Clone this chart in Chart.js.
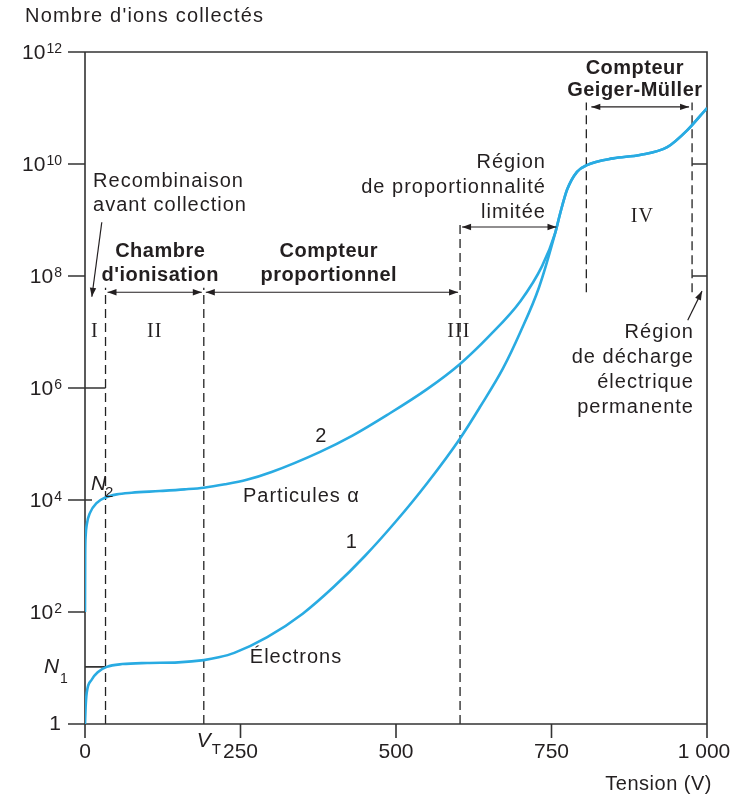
<!DOCTYPE html>
<html>
<head>
<meta charset="utf-8">
<script src="https://cdn.jsdelivr.net/npm/chart.js@4.4.1/dist/chart.umd.min.js"></script>
<style>
  html, body { margin: 0; background: #fff; }
  canvas { display: block; }
</style>
</head>
<body>
<canvas id="chart" width="731" height="794"></canvas>
<script>
const voltsAlpha = [0, 0.3, 1, 3, 8, 19, 32, 51, 75, 120, 160, 191, 225, 260, 300, 378, 430, 486, 550, 603, 650, 700, 735, 756];
const logAlpha   = [2.0, 3.0, 3.35, 3.57, 3.77, 3.95, 4.04, 4.1, 4.13, 4.16, 4.19, 4.22, 4.28, 4.36, 4.5, 4.86, 5.15, 5.52, 5.98, 6.43, 6.93, 7.55, 8.18, 8.77];

const voltsElectrons = [0, 1, 2.7, 10.7, 21, 35, 60, 100, 150, 191, 215, 240, 293, 350, 400, 450, 500, 550, 603, 635, 672, 700, 730, 756];
const logElectrons   = [0, 0.3, 0.55, 0.79, 0.93, 1.02, 1.07, 1.09, 1.1, 1.14, 1.19, 1.27, 1.55, 1.97, 2.45, 3.0, 3.62, 4.3, 5.1, 5.66, 6.35, 7.0, 7.8, 8.77];

// common part once both curves have merged
const voltsGeiger = [764, 775, 791, 807, 849, 892, 936, 968, 1000];
const logGeiger   = [9.12, 9.54, 9.86, 9.98, 10.1, 10.16, 10.3, 10.6, 11.0];

const xTicks = [0, 250, 500, 750, 1000];
const xTickLabels = ['0', '250', '500', '750', '1 000'];
const yTickPowers = [0, 2, 4, 6, 8, 10, 12];

// I|II, II|III (V_T), III|limited, Geiger-Muller start, Geiger-Muller end
const regionBounds = [33, 191, 603, 806, 976];
const logN1 = 1.02;
const logN2 = 4;

const INK = '#231f20';
const AXIS = '#333';
const BLUE = '#29abe2';
const SANS = '"Liberation Sans", Arial, sans-serif';
const SERIF = '"Liberation Serif", "Times New Roman", serif';

const pts = (xs, es) => xs.map((x, i) => ({ x, y: 10 ** es[i] }));

function txt(ctx, s, x, y, font, align = 'left', spacing = '0px') {
  ctx.font = font;
  ctx.textAlign = align;
  ctx.letterSpacing = spacing;
  ctx.fillText(s, x, y);
}

function block(ctx, lines, x, y, lh, font, align, spacing) {
  lines.forEach((s, i) => txt(ctx, s, x, y + i * lh, font, align, spacing));
}

function head(ctx, x1, y1, x2, y2) {
  const a = Math.atan2(y2 - y1, x2 - x1), L = 9, W = 3.2;
  const c = Math.cos(a), s = Math.sin(a);
  ctx.beginPath();
  ctx.moveTo(x2, y2);
  ctx.lineTo(x2 - L * c + W * s, y2 - L * s - W * c);
  ctx.lineTo(x2 - L * c - W * s, y2 - L * s + W * c);
  ctx.closePath();
  ctx.fill();
}

function arrow(ctx, x1, y1, x2, y2, both) {
  ctx.beginPath();
  ctx.moveTo(x1, y1);
  ctx.lineTo(x2, y2);
  ctx.stroke();
  head(ctx, x1, y1, x2, y2);
  if (both) head(ctx, x2, y2, x1, y1);
}

function vdash(ctx, x, yTop, yBottom) {
  ctx.beginPath();
  ctx.moveTo(x, yBottom);
  ctx.lineTo(x, yTop);
  ctx.stroke();
}

const figure = {
  id: 'figure',
  beforeDatasetsDraw(chart) {
    const { ctx, chartArea: a, scales: { x, y } } = chart;
    const X = v => x.getPixelForValue(v);
    const Y = e => y.getPixelForValue(10 ** e);
    const [b1, b2, b3, b4, b5] = regionBounds;
    ctx.save();

    // dashed region limits
    ctx.strokeStyle = '#222';
    ctx.lineWidth = 1.3;
    ctx.setLineDash([9, 5]);
    vdash(ctx, X(b1), Y(7.79), a.bottom);
    vdash(ctx, X(b2), Y(7.79), a.bottom);
    vdash(ctx, X(b3), Y(9.0), a.bottom);
    vdash(ctx, X(b4), Y(11.1), Y(7.71));
    vdash(ctx, X(b5), Y(11.1), Y(7.71));
    ctx.setLineDash([]);

    // frame and ticks
    ctx.strokeStyle = AXIS;
    ctx.lineWidth = 1.6;
    ctx.beginPath();
    ctx.moveTo(a.left - 17, a.top);
    ctx.lineTo(a.right, a.top);
    ctx.lineTo(a.right, a.bottom + 14);
    ctx.moveTo(a.left, a.top);
    ctx.lineTo(a.left, a.bottom);
    ctx.lineTo(a.right, a.bottom);
    yTickPowers.forEach(p => {
      ctx.moveTo(a.left - 17, Y(p));
      let inner = a.left;
      if (p === 6) inner = X(b1);
      if (p === 4) inner = a.left + 7;
      ctx.lineTo(inner, Y(p));
    });
    xTicks.forEach(v => {
      ctx.moveTo(X(v), a.bottom);
      ctx.lineTo(X(v), a.bottom + 14);
    });
    // N1 level and inner right ticks
    ctx.moveTo(a.left, Y(logN1));
    ctx.lineTo(X(b1), Y(logN1));
    [8, 10].forEach(p => {
      ctx.moveTo(X(b5), Y(p));
      ctx.lineTo(a.right, Y(p));
    });
    ctx.stroke();
    ctx.restore();
  },
  afterDatasetsDraw(chart) {
    const { ctx, chartArea: a, scales: { x, y } } = chart;
    const X = v => x.getPixelForValue(v);
    const Y = e => y.getPixelForValue(10 ** e);
    const [b1, b2, b3, b4, b5] = regionBounds;
    const reg = '20px ' + SANS;
    const bold = 'bold 20px ' + SANS;
    const roman = '20px ' + SERIF;
    ctx.save();
    ctx.fillStyle = INK;
    ctx.strokeStyle = INK;
    ctx.textBaseline = 'alphabetic';

    txt(ctx, "Nombre d'ions collectés", 25, 22, reg, 'left', '1.2px');
    txt(ctx, 'Tension (V)', 712, 790, reg, 'right', '0.5px');

    // y tick labels 10^n
    yTickPowers.forEach(p => {
      const ty = Y(p);
      if (p === 0) {
        txt(ctx, '1', 61, ty + 6, '21px ' + SANS, 'right');
        return;
      }
      ctx.font = '14px ' + SANS;
      ctx.letterSpacing = '0px';
      const supW = ctx.measureText(String(p)).width;
      txt(ctx, String(p), 62, ty + 1, '14px ' + SANS, 'right');
      txt(ctx, '10', 62 - supW - 1, ty + 7, '21px ' + SANS, 'right');
    });

    // x tick labels
    xTicks.forEach((v, i) => txt(ctx, xTickLabels[i], X(v) - (v === 1000 ? 3 : 0), a.bottom + 34, '21px ' + SANS, 'center'));

    // N1, N2, V_T
    txt(ctx, 'N', 44, Y(logN1) + 6, 'italic 21px ' + SANS);
    txt(ctx, '1', 60, Y(logN1) + 16, '14px ' + SANS);
    txt(ctx, 'N', 91, Y(logN2) - 10, 'italic 21px ' + SANS);
    txt(ctx, '2', 105, Y(logN2) - 3, '15px ' + SANS);
    txt(ctx, 'V', X(b2) - 7, a.bottom + 23, 'italic 21px ' + SANS);
    txt(ctx, 'T', X(b2) + 8, a.bottom + 30, '15px ' + SANS);

    // region names
    block(ctx, ['Recombinaison', 'avant collection'], X(13), Y(9.59), 24, reg, 'left', '1px');
    block(ctx, ['Chambre', "d'ionisation"], X(121), Y(8.34), 24, bold, 'center', '0.5px');
    block(ctx, ['Compteur', 'proportionnel'], X(392), Y(8.34), 24, bold, 'center', '0.5px');
    block(ctx, ['Région', 'de proportionnalité', 'limitée'], X(741), Y(9.93), 25, reg, 'right', '1px');
    block(ctx, ['Compteur', 'Geiger-Müller'], X(884), Y(11.61), 22, bold, 'center', '0.5px');
    block(ctx, ['Région', 'de décharge', 'électrique', 'permanente'], X(979), Y(6.89), 25, reg, 'right', '1px');

    // roman numerals
    txt(ctx, 'I', X(16), Y(6.91), roman, 'center', '1px');
    txt(ctx, 'II', X(112), Y(6.91), roman, 'center', '1px');
    txt(ctx, 'III', X(601), Y(6.91), roman, 'center', '1px');
    txt(ctx, 'IV', X(896), Y(8.96), roman, 'center', '1px');

    // curve labels
    txt(ctx, '2', X(379), Y(5.04), reg, 'center');
    txt(ctx, 'Particules α', X(254), Y(3.96), reg, 'left', '1px');
    txt(ctx, '1', X(428), Y(3.14), reg, 'center');
    txt(ctx, 'Électrons', X(265), Y(1.09), reg, 'left', '1px');

    // arrows
    ctx.lineWidth = 1.2;
    arrow(ctx, X(27), Y(8.96), X(11), Y(7.63), false);
    arrow(ctx, X(b1) + 2, Y(7.71), X(b2) - 2, Y(7.71), true);
    arrow(ctx, X(b2) + 2, Y(7.71), X(b3) - 2, Y(7.71), true);
    arrow(ctx, X(b3) + 2, Y(8.875), X(758), Y(8.875), true);
    arrow(ctx, X(b4) + 5, Y(11.02), X(b5) - 3, Y(11.02), true);
    arrow(ctx, X(969), Y(7.21), X(992), Y(7.73), false);
    ctx.restore();
  }
};

const lineStyle = {
  borderColor: BLUE,
  borderWidth: 2.6,
  pointRadius: 0,
  fill: false,
  cubicInterpolationMode: 'monotone'
};

new Chart(document.getElementById('chart'), {
  type: 'line',
  data: {
    datasets: [
      { label: '1 Électrons', data: pts(voltsElectrons, logElectrons).concat(pts(voltsGeiger, logGeiger)), ...lineStyle },
      { label: '2 Particules α', data: pts(voltsAlpha, logAlpha).concat(pts(voltsGeiger, logGeiger)), ...lineStyle }
    ]
  },
  options: {
    responsive: false,
    animation: false,
    layout: { padding: { left: 85, top: 52, right: 24, bottom: 70 } },
    plugins: { legend: { display: false }, tooltip: { enabled: false } },
    scales: {
      x: { type: 'linear', min: 0, max: 1000, display: false },
      y: { type: 'logarithmic', min: 1, max: 1e12, display: false }
    }
  },
  plugins: [figure]
});
</script>
</body>
</html>
